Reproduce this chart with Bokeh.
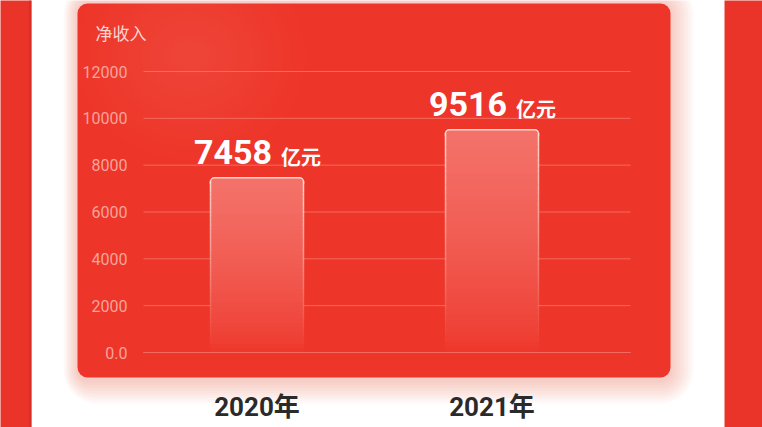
from bokeh.plotting import figure
from bokeh.models import Range1d, LinearAxis, FixedTicker
from bokeh.core.properties import value
from bokeh.embed import file_html
from bokeh.resources import INLINE

# ---------------- data ----------------
years = ["2020年", "2021年"]
revenue = [7458, 9516]
unit_label = "亿元"
chart_title = "净收入"
y_ticks = [0, 2000, 4000, 6000, 8000, 10000, 12000]
y_tick_labels = ["0.0", "2000", "4000", "6000", "8000", "10000", "12000"]

# ---------------- layout (page pixels) ----------------
W, H = 762, 427
M = 0
Y0_PX, YTOP_PX = 352, 71      # pixel rows of first / last y tick
X0_PX, DX_PX = 256.5, 235     # pixel column of first category, spacing
vpp = (y_ticks[-1] - y_ticks[0]) / (Y0_PX - YTOP_PX)   # value per pixel

CARD = (238, 53, 41)
CARD_HEX = "#ee3529"
LINE_CREAM = "#ffe4d8"


def mix(c, a):
    r, g, b = (int(round(ch + (255 - ch) * a)) for ch in c)
    return "#%02x%02x%02x" % (r, g, b)


p = figure(
    width=W, height=H,
    x_range=Range1d((M - X0_PX) / DX_PX, (M + W - X0_PX) / DX_PX),
    y_range=Range1d((Y0_PX - (M + H)) * vpp, (Y0_PX - M) * vpp),
    x_axis_type=None, y_axis_type=None,
    toolbar_location=None, output_backend="svg",
    min_border=0, min_border_left=0, min_border_right=0,
    min_border_top=0, min_border_bottom=0,
    background_fill_color="white", border_fill_color="white",
    outline_line_color=None,
)
p.extra_x_ranges = {"px": Range1d(M, M + W)}
p.extra_y_ranges = {"px": Range1d(M + H, M)}

# side strips of the page
p.quad(left=[-5], right=[31], top=[-5], bottom=[M + H + 5], x_range_name="px",
       y_range_name="px", fill_color="#ea3429", line_color=None)
p.quad(left=[28.5], right=[31], top=[-5], bottom=[M + H + 5], x_range_name="px",
       y_range_name="px", fill_color="#c92c25", fill_alpha=0.6, line_color=None)
p.quad(left=[724], right=[M + W + 5], top=[-5], bottom=[M + H + 5], x_range_name="px",
       y_range_name="px", fill_color="#ea3429", line_color=None)

# card shadow
for i in range(9):
    g = 2 + 2.6 * i
    p.quad(left=[77 - g * 0.6], right=[670 + g], top=[3 - g], bottom=[377 + g + 3],
           x_range_name="px", y_range_name="px", fill_color="#f06a64",
           fill_alpha=0.045, line_color=None, border_radius=int(round(10 + g)))

# card
p.quad(left=[77], right=[670], top=[3], bottom=[377], x_range_name="px",
       y_range_name="px", fill_color=CARD_HEX, line_color=None, border_radius=10)
# soft lighter glow at the top-left of the card
n_g = 14
p.ellipse(x=[190] * n_g, y=[55] * n_g,
          width=[2 * (20 + 95 * k / (n_g - 1)) for k in range(n_g)],
          height=[2 * (15 + 90 * k / (n_g - 1)) for k in range(n_g)],
          x_range_name="px", y_range_name="px", fill_color="white",
          fill_alpha=0.008, line_color=None)

# title
p.text(x=[95], y=[32], text=[chart_title], x_range_name="px", y_range_name="px",
       text_font=value("Noto Sans CJK SC"), text_font_size="17px",
       text_color="#fcd6d0", text_align="left", text_baseline="middle")

# grid lines
n_t = len(y_ticks)
p.segment(x0=[143] * n_t, x1=[630] * n_t, y0=y_ticks, y1=y_ticks,
          x_range_name="px", line_color="#f36a5f", line_width=1)

# bars (gradient built from slices of each bar)
xs = list(range(len(years)))
bar_w = 93 / DX_PX
A_TOP = 0.30
L_TOP = 0.9
cap = 6 * vpp
N = 40
p.vbar(x=xs, top=revenue, bottom=[v - cap for v in revenue], width=bar_w,
       fill_color=mix(CARD, A_TOP), line_color=LINE_CREAM, line_width=1.5,
       line_alpha=L_TOP, border_radius=(4, 4, 0, 0))
sx, sb, st, sc = [], [], [], []
lx, ly0, ly1, la = [], [], [], []
for xi, v in zip(xs, revenue):
    body = v - cap
    for k in range(N):
        f = (k + 0.5) / N
        b = body * k / N
        t = body * (k + 1) / N + (cap * 0.5 if k == N - 1 else 1.0 * vpp)
        sx.append(xi); sb.append(b); st.append(t)
        sc.append(mix(CARD, A_TOP * f ** 0.7))
        for side in (-1, 1):
            lx.append(xi + side * bar_w / 2)
            ly0.append(body * k / N)
            ly1.append(body * (k + 1) / N + (cap * 0.5 if k == N - 1 else 0))
            la.append(L_TOP * f ** 1.1)
p.vbar(x=sx, bottom=sb, top=st, width=bar_w, fill_color=sc, line_color=None)
p.segment(x0=lx, x1=lx, y0=ly0, y1=ly1, line_color=LINE_CREAM, line_alpha=la,
          line_width=1.5)
# baseline over the bars
p.segment(x0=[143], x1=[630], y0=[y_ticks[0]], y1=[y_ticks[0]], x_range_name="px",
          line_color="#f36a5f", line_width=1)

# value labels
p.text(x=xs, y=revenue, text=[str(v) for v in revenue], text_align="right",
       text_baseline="alphabetic", x_offset=15, y_offset=-26,
       text_font=value("Roboto"), text_font_style="bold", text_font_size="34px",
       text_color="white")
p.text(x=xs, y=revenue, text=[unit_label] * len(xs), text_align="left",
       text_baseline="alphabetic", x_offset=24, y_offset=-21,
       text_font=value("Noto Sans CJK SC"), text_font_style="bold",
       text_font_size="20px", text_color="white")

# y axis (inside the card)
yax = LinearAxis(fixed_location=(143 - X0_PX) / DX_PX,
                 ticker=FixedTicker(ticks=y_ticks),
                 major_label_overrides={t: l for t, l in zip(y_ticks, y_tick_labels)})
yax.axis_line_color = None
yax.major_tick_line_color = None
yax.minor_tick_line_color = None
yax.major_label_standoff = 10
yax.major_label_text_color = "#f7a49b"
yax.major_label_text_font = "Roboto"
yax.major_label_text_font_size = "16px"
p.add_layout(yax, "left")

# x axis (category labels under the card)
xax = LinearAxis(fixed_location=(Y0_PX - 381) * vpp,
                 ticker=FixedTicker(ticks=xs),
                 major_label_overrides={i: y for i, y in zip(xs, years)})
xax.axis_line_color = None
xax.major_tick_line_color = None
xax.minor_tick_line_color = None
xax.major_label_standoff = 4
xax.major_label_text_color = "#2a2a2a"
xax.major_label_text_font = "Roboto, 'Noto Sans CJK SC'"
xax.major_label_text_font_style = "bold"
xax.major_label_text_font_size = "26px"
p.add_layout(xax, "below")

open("out.html", "w").write(file_html(p, INLINE))
